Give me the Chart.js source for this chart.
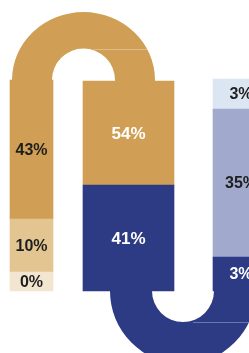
<!DOCTYPE html>
<html>
<head>
<meta charset="utf-8">
<script src="https://cdn.jsdelivr.net/npm/chart.js@4/dist/chart.umd.min.js"></script>
<style>
html,body{margin:0;padding:0;background:#ffffff;overflow:hidden}
#wrap{position:relative;width:249px;height:353px}
</style>
</head>
<body>
<div id="wrap"><canvas id="c"></canvas></div>
<script>
// ---- DATA (segment heights as drawn, bottom -> top, and their printed labels) ----
const columns = ['Stage 1', 'Stage 2', 'Stage 3'];
const col1Values = [19, 53, 139];
const col1Labels = ['0%', '10%', '43%'];
const col2Values = [106, 104];
const col2Labels = ['41%', '54%'];
const col3Values = [34, 148, 30];
const col3Labels = ['3%', '35%', '3%'];

// ---- LAYOUT / STYLE ----
const COL_X = [31.5, 128.5, 241];   // column centres on the x scale (0..249)
const COL_W = [43, 91, 56];         // bar thickness (px)
const GOLD = '#D09F55', TAN = '#E3C592', CREAM = '#F3E6D0';
const NAVY = '#2C3B83', LAVENDER = '#A1A9CD', ICE = '#DCE6F3';
const DARK = '#1e1e1e', WHITE = '#ffffff';

const col1Colors = [CREAM, TAN, GOLD];
const col1Text = [DARK, DARK, DARK];
const col2Colors = [NAVY, GOLD];
const col2Text = [WHITE, WHITE];
const col3Colors = [NAVY, LAVENDER, ICE];
const col3Text = [WHITE, DARK, DARK];

const colValues = [col1Values, col2Values, col3Values];
const colLabels = [col1Labels, col2Labels, col3Labels];
const colColors = [col1Colors, col2Colors, col3Colors];
const colText = [col1Text, col2Text, col3Text];
const colFont = [16, 17, 16];

const datasets = [];
colValues.forEach((vals, c) => {
  vals.forEach((v, i) => {
    datasets.push({
      label: columns[c] + ' ' + colLabels[c][i],
      data: [{ x: COL_X[c], y: v }],
      backgroundColor: colColors[c][i],
      borderWidth: 0,
      barThickness: COL_W[c],
      stack: 'all',
      _text: colLabels[c][i],
      _textColor: colText[c][i],
      _font: colFont[c]
    });
  });
});

// flows connecting columns: over the top (gold) and underneath (navy)
const flows = [
  { from: 0, fromX: 32, toX: 135, width: 40, side: 'top', color: GOLD, squash: 0.95 },
  { from: 1, fromX: 131, toX: 235, width: 42, side: 'bottom', color: NAVY, squash: 1.0 }
];

const flowPlugin = {
  id: 'flows',
  beforeDatasetsDraw(chart) {
    const { ctx, scales: { x: xs, y: ys } } = chart;
    flows.forEach(f => {
      const x1 = xs.getPixelForValue(f.fromX), x2 = xs.getPixelForValue(f.toX);
      const cx = (x1 + x2) / 2, R = (x2 - x1) / 2, hw = f.width / 2;
      const ri = R - hw, ro = R + hw, roY = ro * f.squash;
      const top = colValues[f.from].reduce((a, b) => a + b, 0);
      const cy = f.side === 'top' ? ys.getPixelForValue(top) : ys.getPixelForValue(0);
      ctx.save();
      ctx.fillStyle = f.color;
      ctx.beginPath();
      if (f.side === 'top') {
        ctx.ellipse(cx, cy, ro, roY, 0, Math.PI, 2 * Math.PI, false);
        ctx.lineTo(cx + ri, cy);
        ctx.arc(cx, cy, ri, 0, -Math.PI, true);
      } else {
        ctx.ellipse(cx, cy, ro, roY, 0, Math.PI, 0, true);
        ctx.lineTo(cx + ri, cy);
        ctx.arc(cx, cy, ri, 0, Math.PI, false);
      }
      ctx.closePath();
      ctx.fill();
      // legs overlap into bars slightly
      const dy = f.side === 'top' ? 0 : -4;
      ctx.fillRect(x1 - hw, cy + dy, f.width, 4);
      ctx.fillRect(x2 - hw, cy + dy, f.width, 4);
      // faint seam at inner extreme
      const sy = f.side === 'top' ? cy - ri : cy + ri;
      const d = ri / roY;
      const sx2 = cx + ro * Math.sqrt(Math.max(0, 1 - d * d));
      ctx.strokeStyle = 'rgba(255,255,255,0.3)';
      ctx.lineWidth = 1;
      ctx.beginPath();
      ctx.moveTo(cx + 10, Math.round(sy) + 0.5);
      ctx.lineTo(sx2, Math.round(sy) + 0.5);
      ctx.stroke();
      ctx.restore();
    });
  }
};

const labelPlugin = {
  id: 'segLabels',
  afterDatasetsDraw(chart) {
    const { ctx } = chart;
    chart.data.datasets.forEach((ds, di) => {
      const meta = chart.getDatasetMeta(di);
      meta.data.forEach(el => {
        const { x, y, base } = el.getProps(['x', 'y', 'base'], true);
        ctx.save();
        ctx.fillStyle = ds._textColor;
        ctx.font = 'bold ' + ds._font + 'px "Liberation Sans", Arial, sans-serif';
        ctx.textAlign = 'center';
        ctx.textBaseline = 'middle';
        ctx.fillText(ds._text, x, (y + base) / 2 + 1);
        ctx.restore();
      });
    });
  }
};

new Chart(document.getElementById('c'), {
  type: 'bar',
  data: { datasets },
  options: {
    responsive: true,
    maintainAspectRatio: false,
    animation: false,
    events: [],
    layout: { padding: 0 },
    plugins: { legend: { display: false }, tooltip: { enabled: false } },
    scales: {
      x: { type: 'linear', min: 0, max: 249, offset: false, display: false, stacked: true, grid: { offset: false } },
      y: { type: 'linear', min: -62, max: 291, display: false, stacked: true, grace: 0 }
    }
  },
  plugins: [flowPlugin, labelPlugin]
});
</script>
</body>
</html>
